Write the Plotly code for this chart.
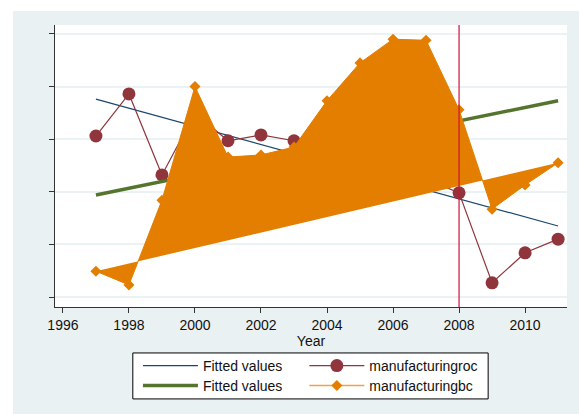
import plotly.graph_objects as go

# ---------------- data ----------------
years = [1997, 1998, 1999, 2000, 2001, 2002, 2003, 2004, 2005, 2006, 2007, 2008, 2009, 2010, 2011]
manufacturingroc = [3.06, 3.86, 2.32, 3.50, 2.97, 3.08, 2.97, 2.90, 3.00, 2.70, 2.25, 1.98, 0.27, 0.84, 1.10]
manufacturingbc = [0.49, 0.23, 1.84, 4.00, 2.66, 2.70, 2.85, 3.73, 4.45, 4.90, 4.88, 3.56, 1.67, 2.13, 2.55]
fit_years = [1997, 2011]
fitted_roc = [3.76, 1.35]
fitted_bc = [1.94, 3.73]
event_year = 2008
x_ticks = [1996, 1998, 2000, 2002, 2004, 2006, 2008, 2010]
y_ticks = [0, 1, 2, 3, 4, 5]

BLUE = "#1a476f"
RED = "#90353b"
GREEN = "#55752f"
ORANGE = "#e37e00"
VLINE = "#d0103a"
BG = "#eaf1f3"
FONT = "Liberation Sans, Arial, sans-serif"

fig = go.Figure()
fig.add_trace(go.Scatter(x=fit_years, y=fitted_roc, mode="lines", name="Fitted values",
                         line=dict(color=BLUE, width=1.2), legend="legend"))
fig.add_trace(go.Scatter(x=years, y=manufacturingroc, mode="lines+markers", name="manufacturingroc",
                         line=dict(color=RED, width=1.2), marker=dict(color=RED, size=13, symbol="circle"),
                         legend="legend2"))
fig.add_trace(go.Scatter(x=fit_years, y=fitted_bc, mode="lines", name="Fitted values",
                         line=dict(color=GREEN, width=3.5), legend="legend3"))
fig.add_trace(go.Scatter(x=years, y=manufacturingbc, mode="lines+markers", name="manufacturingbc",
                         fill="toself", fillcolor=ORANGE,
                         line=dict(color=ORANGE, width=1), marker=dict(color=ORANGE, size=8.5, symbol="diamond"),
                         showlegend=False))
# legend-only entry for the orange series
fig.add_trace(go.Scatter(x=[None], y=[None], mode="lines+markers", name="manufacturingbc",
                         line=dict(color="#f0a340", width=1.5), marker=dict(color=ORANGE, size=8.5, symbol="diamond"),
                         legend="legend4"))

# vertical event line
fig.add_shape(type="line", xref="x", yref="paper", x0=event_year, x1=event_year, y0=0, y1=1,
              line=dict(color=VLINE, width=1.2), layer="above")
# white strips at top and left of the page
fig.add_shape(type="rect", xref="paper", yref="paper", x0=-0.2, x1=1.1, y0=1.0496, y1=1.2,
              fillcolor="white", line=dict(width=0), layer="above")
fig.add_shape(type="rect", xref="paper", yref="paper", x0=-0.2, x1=-0.082, y0=-0.5, y1=1.2,
              fillcolor="white", line=dict(width=0), layer="above")
# legend box
fig.add_shape(type="rect", xref="paper", yref="paper", x0=0.152, x1=0.846, y0=-0.326, y1=-0.163,
              fillcolor="white", line=dict(color="black", width=1), layer="above")

leg_common = dict(xanchor="left", yanchor="middle", orientation="v",
                  bgcolor="rgba(0,0,0,0)", itemwidth=55, font=dict(size=14))
row1_y = -0.2092
row2_y = -0.2801
col1_x = 0.162
col2_x = 0.487

fig.update_layout(
    width=579, height=414,
    margin=dict(l=55, r=12, t=25, b=107, autoexpand=False),
    paper_bgcolor=BG, plot_bgcolor="white",
    font=dict(family=FONT, size=14, color="#111"),
    legend=dict(x=col1_x, y=row1_y, **leg_common),
    legend2=dict(x=col2_x, y=row1_y, **leg_common),
    legend3=dict(x=col1_x, y=row2_y, **leg_common),
    legend4=dict(x=col2_x, y=row2_y, **leg_common),
    xaxis=dict(range=[1995.76, 2011.27], tickvals=x_ticks, ticks="outside", ticklen=5,
               tickcolor="#333", showgrid=False, zeroline=False, showline=True, linecolor="#333",
               linewidth=1.3, title=dict(text="Year", standoff=0, font=dict(size=14)),
               tickfont=dict(size=14), automargin=False),
    yaxis=dict(range=[-0.19, 5.17], tickvals=y_ticks, showticklabels=False, ticks="outside",
               ticklen=5, tickcolor="#333", showgrid=True, gridcolor="#eaf2f3", gridwidth=1.5,
               zeroline=False, showline=True, linecolor="#333", linewidth=1.3, automargin=False),
)

fig.write_html("out.html")
